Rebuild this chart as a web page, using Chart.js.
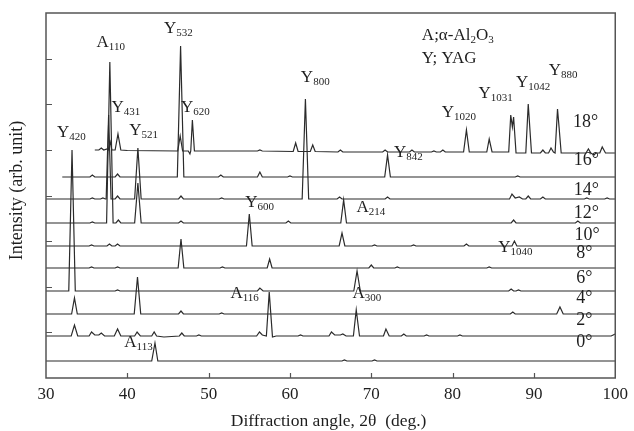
<!DOCTYPE html>
<html>
<head>
<meta charset="utf-8">
<script src="https://cdn.jsdelivr.net/npm/chart.js@4.4.0/dist/chart.umd.min.js"></script>
<style>
  html, body { margin: 0; padding: 0; background: #fff; }
  #xrd { display: block; }
</style>
</head>
<body>
<canvas id="xrd" width="634" height="431"></canvas>
<script>
// XRD patterns, one trace per tilt angle, stacked with a baseline offset
const angleMin = 30, angleMax = 100;
const xTickValues = [30, 40, 50, 60, 70, 80, 90, 100];
const intensityMax = 365;          // arb. unit
const yTickCount = 8;

const tiltLabels = ['0°', '2°', '4°', '6°', '8°', '10°', '12°', '14°', '16°', '18°'];
const baselines  = [17, 42, 64, 87, 110, 132, 155, 179, 201, 226];

// [2θ, intensity above baseline]
const trace0 = [[30,0],[43.0,0],[43.4,18],[43.75,0],[66.4,0],[66.7,1],[67.0,0],[70.1,0],[70.4,1],[70.7,0],[100,0]];
const trace2 = [[30,0],[33.1,0],[33.5,11],[33.9,0],[35.3,0],[35.6,4],[36.0,1],[36.5,1],[36.8,3],[37.2,0],[38.4,0],[38.8,7],[39.2,0],
  [40.9,0],[41.2,4],[41.6,0],[43.0,0],[43.3,4],[43.6,0],[44.5,-1],[46.4,0],[46.7,3],[47.0,0],[48.5,0],[48.8,1],[49.1,0],
  [55.9,0],[56.25,4],[56.6,1],[57.1,0],[57.45,44],[57.85,-1],[58.3,0],[61.0,0],[61.3,1],[61.6,0],[64.8,0],[65.1,4],[65.5,1],
  [66.2,1],[66.5,2],[66.9,0],[67.8,0],[68.15,26],[68.55,0],[71.5,0],[71.8,7],[72.2,0],[73.7,0],[74.0,2],[74.3,0],
  [76.5,0],[76.8,1],[77.1,0],[80.6,0],[80.9,1],[81.2,0],[99.5,0],[100,2]];
const trace4 = [[30,0],[33.15,0],[33.5,16],[33.85,0],[40.85,0],[41.25,37],[41.65,0],[46.3,0],[46.6,3],[46.9,0],[51.3,0],[51.6,1],[51.9,0],
  [87.1,0],[87.4,2],[87.7,0],[92.8,0],[93.2,7],[93.6,0],[100,0]];
const trace6 = [[30,0],[32.8,0],[33.2,141],[33.6,0],[38.5,0],[38.8,1],[39.1,0],[56.0,0],[56.3,3],[56.7,0],[67.85,0],[68.25,20],[68.65,0],
  [86.9,0],[87.2,2],[87.5,0],[87.8,0],[88.1,1],[88.4,0],[100,0]];
const trace8 = [[30,0],[35.3,0],[35.6,1],[35.9,0],[38.5,0],[38.8,1],[39.1,0],[46.25,0],[46.6,29],[46.95,0],[51.4,0],[51.7,1],[52.0,0],
  [57.2,0],[57.5,9],[57.8,0],[69.7,0],[70.0,3],[70.3,0],[72.9,0],[73.2,1],[73.5,0],[84.2,0],[84.5,1],[84.8,0],[100,0]];
const trace10 = [[30,0],[35.3,0],[35.6,1],[35.9,0],[37.5,0],[37.8,2],[38.1,0],[38.5,0],[38.8,2],[39.1,0],[54.65,0],[55.0,32],[55.35,0],
  [66.05,0],[66.4,13],[66.75,0],[70.1,0],[70.4,1],[70.7,0],[74.9,0],[75.2,1],[75.5,0],[81.4,0],[81.7,2],[82.0,0],[87.3,0],[87.6,5],[87.9,0],[100,0]];
const trace12 = [[30,0],[35.4,0],[35.7,1],[36.0,0],[37.45,0],[37.85,161],[38.25,0],[38.6,0],[38.9,3],[39.2,0],[40.9,0],[41.3,40],[41.7,0],
  [46.3,0],[46.6,2],[46.9,0],[59.5,0],[59.8,2],[60.1,0],[66.25,0],[66.6,23],[66.95,0],[87.2,0],[87.5,3],[87.8,0],[95.1,0],[95.4,2],[95.7,0],[100,0]];
const trace14 = [[30,0],[35.4,0],[35.7,1],[36.0,0],[36.7,0],[37.0,1],[37.3,0],[37.4,0],[37.7,84],[38.0,0],[38.5,0],[38.8,3],[39.1,0],
  [40.9,0],[41.3,51],[41.7,0],[46.3,0],[46.6,3],[46.9,0],[51.3,0],[51.6,1],[51.9,0],[61.5,0],[61.9,100],[62.3,0],[65.8,0],[66.1,2],[66.4,0],
  [71.7,0],[72.0,2],[72.3,0],[87.0,0],[87.3,5],[87.7,1],[88.2,2],[88.6,0],[89.0,0],[89.3,3],[89.6,0],[90.8,0],[91.1,2],[91.4,0],
  [96.2,0],[96.5,1],[96.8,0],[98.7,0],[99.0,1],[99.3,0],[100,0]];
const trace16 = [[32.0,0],[35.4,0],[35.7,2],[36.0,0],[38.5,0],[38.8,3],[39.1,0],[46.15,0],[46.55,131],[46.95,0],[51.2,0],[51.5,2],[51.8,0],
  [56.0,0],[56.3,5],[56.6,0],[59.7,0],[60.0,1],[60.3,0],[71.65,0],[72.0,22],[72.35,0],[87.7,0],[88.0,1],[88.3,0],[100,0]];
const trace18 = [[36.0,2],[36.5,2],[36.8,4],[37.1,2],[37.5,3],[37.65,2],[37.9,10],[38.1,2],[38.5,2],[38.85,18],[39.2,2],[40.0,1.5],
  [46.2,1],[46.5,16],[46.8,1],[47.5,1],[47.7,-2],[47.8,1],[48.0,32],[48.25,1],[52.0,1],[56.0,1],[56.3,2],[56.6,1],
  [60.4,0.5],[60.7,9],[61.0,0.5],[62.5,0.5],[62.8,7],[63.1,0.5],[65.9,0],[66.2,2],[66.5,0],[71.4,0],[71.7,2],[72.0,0],
  [74.7,0],[75.0,2],[75.3,0],[77.4,0],[77.7,1],[78.0,0],[78.5,0],[78.8,2],[79.1,0],[81.35,0],[81.7,22],[82.05,0],
  [84.2,0],[84.5,13],[84.85,0],[86.9,0],[87.15,37],[87.35,25],[87.5,35],[87.8,-1],[89.0,-1],[89.3,48],[89.7,-1],
  [90.8,-1],[91.1,2],[91.4,-1],[91.8,-1],[92.1,4],[92.4,0],[92.6,-1],[92.9,43],[93.1,24],[93.35,-1],[96.4,-1],[96.7,3],[97.0,-1],
  [97.4,-3],[97.6,-1],[98.1,-1],[98.4,5],[98.8,-1],[100,-1]];
const traces = [trace0, trace2, trace4, trace6, trace8, trace10, trace12, trace14, trace16, trace18];

// peak labels: letter, subscript, anchor [2θ, intensity]
const peakLetters = ['A','Y','Y','Y','Y','Y','Y','Y','Y','A','Y','A','A','A','Y','Y','Y','Y'];
const peakSubs    = ['110','532','431','620','420','521','800','600','842','214','1040','116','300','113','1020','1031','1042','880'];
const peakAnchors = [[36.22,331],[44.51,345],[38.05,266],[46.59,266],[31.34,241],[40.24,243],[61.34,296],[54.51,171],[72.80,221],
  [68.17,166],[85.61,126],[52.68,80],[67.68,80],[39.63,31],[78.66,261],[83.17,280],[87.80,291],[91.83,303]];
// tilt labels on the right, same order as tiltLabels
const tiltAnchors = [[95.2,31],[95.2,53],[95.2,75],[95.2,95],[95.2,120],[95.0,138],[94.9,160],[94.9,183],[94.9,213],[94.8,251]];

const serif = '"Liberation Serif", "Times New Roman", serif';
const ink = '#2b2b2b';

const datasets = traces.map((pts, i) => ({
  label: tiltLabels[i],
  data: pts.map(p => ({ x: p[0], y: p[1] + baselines[i] })),
  borderColor: ink,
  borderWidth: 1.2,
  pointRadius: 0,
  tension: 0,
  fill: false
}));

function drawSub(ctx, x, y, parts) {
  // parts: [text, isSub]
  let cx = x;
  parts.forEach(([t, sub]) => {
    ctx.font = sub ? '11px ' + serif : '17px ' + serif;
    ctx.fillText(t, cx, sub ? y + 3 : y);
    cx += ctx.measureText(t).width;
  });
}

const decor = {
  id: 'decor',
  afterDatasetsDraw(chart) {
    const { ctx, chartArea: a, scales: { x, y } } = chart;
    ctx.save();
    ctx.strokeStyle = '#555';
    ctx.lineWidth = 1.5;
    ctx.strokeRect(a.left, a.top, a.right - a.left, a.bottom - a.top);

    ctx.beginPath();
    ctx.lineWidth = 1.2;
    x.ticks.forEach(t => {
      if (t.value <= angleMin || t.value >= angleMax) return;
      const px = Math.round(x.getPixelForValue(t.value)) + 0.5;
      ctx.moveTo(px, a.bottom);
      ctx.lineTo(px, a.bottom - 5);
    });
    y.ticks.forEach(t => {
      if (t.value <= 0 || t.value >= intensityMax - 1) return;
      const py = Math.round(y.getPixelForValue(t.value)) + 0.5;
      ctx.moveTo(a.left, py);
      ctx.lineTo(a.left + 6, py);
    });
    ctx.stroke();

    ctx.fillStyle = '#1e1e1e';
    ctx.textBaseline = 'alphabetic';
    ctx.textAlign = 'left';
    peakAnchors.forEach((p, i) => {
      drawSub(ctx, x.getPixelForValue(p[0]), y.getPixelForValue(p[1]), [[peakLetters[i], false], [peakSubs[i], true]]);
    });

    drawSub(ctx, x.getPixelForValue(76.22), y.getPixelForValue(338),
      [['A;\u03b1-Al', false], ['2', true], ['O', false], ['3', true]]);
    ctx.font = '17px ' + serif;
    ctx.fillText('Y; YAG', x.getPixelForValue(76.22), y.getPixelForValue(315));

    ctx.font = '18px ' + serif;
    tiltAnchors.forEach((p, i) => {
      ctx.fillText(tiltLabels[i], x.getPixelForValue(p[0]), y.getPixelForValue(p[1]));
    });

    // axis titles
    ctx.font = '17.5px ' + serif;
    ctx.textAlign = 'center';
    ctx.fillText('Diffraction angle, 2\u03b8  (deg.)', (a.left + a.right) / 2 - 2, a.bottom + 48);
    ctx.font = '18px ' + serif;
    ctx.translate(a.left - 29, (a.top + a.bottom) / 2 - 5);
    ctx.rotate(-Math.PI / 2);
    ctx.textBaseline = 'middle';
    ctx.fillText('Intensity (arb. unit)', 0, 0);
    ctx.restore();
  }
};

new Chart(document.getElementById('xrd'), {
  type: 'line',
  data: { datasets },
  options: {
    responsive: false,
    devicePixelRatio: 1,
    animation: false,
    layout: { padding: { top: 13, right: 14, left: 0, bottom: 0 } },
    plugins: { legend: { display: false }, tooltip: { enabled: false } },
    scales: {
      x: {
        type: 'linear',
        min: angleMin,
        max: angleMax,
        afterBuildTicks: s => { s.ticks = xTickValues.map(v => ({ value: v })); },
        afterFit: s => { s.height = 53; },
        grid: { display: false, drawTicks: false },
        border: { display: false },
        ticks: { font: { family: serif, size: 17 }, color: '#1e1e1e', padding: 6, maxRotation: 0, autoSkip: false }
      },
      y: {
        type: 'linear',
        min: 0,
        max: intensityMax,
        afterBuildTicks: s => {
          s.ticks = Array.from({ length: yTickCount + 1 }, (_, k) => ({ value: k * intensityMax / yTickCount }));
        },
        afterFit: s => { s.width = 46; },
        grid: { display: false, drawTicks: false },
        border: { display: false },
        ticks: { display: false }
      }
    }
  },
  plugins: [decor]
});
</script>
</body>
</html>
